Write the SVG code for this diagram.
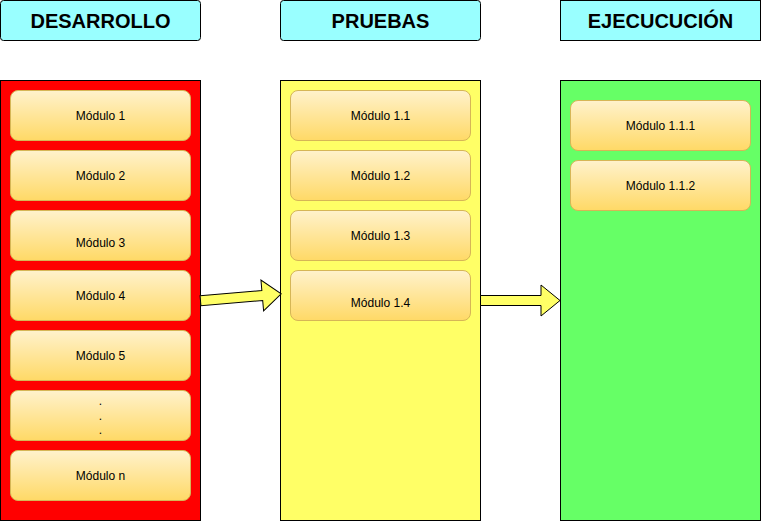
<svg xmlns="http://www.w3.org/2000/svg" width="761" height="521" viewBox="0 0 761 521">
<defs>
<linearGradient id="mod" x1="0" y1="0" x2="0" y2="1">
<stop offset="0" stop-color="#FFF2CC"/>
<stop offset="1" stop-color="#FFD966"/>
</linearGradient>
<style>
.hdr{fill:#99FFFF;stroke:#000;stroke-width:1}
.htxt{font-family:"Liberation Sans",Arial,sans-serif;font-weight:bold;font-size:20px;text-anchor:middle;fill:#000}
.col{stroke:#000;stroke-width:1}
.mod{fill:url(#mod);stroke:#D6B656;stroke-width:1}
.mtxt{font-family:"Liberation Sans",Arial,sans-serif;font-size:12px;text-anchor:middle;fill:#000}
.arr{fill:#FFFF66;stroke:#000;stroke-width:1;stroke-linejoin:miter}
</style>
</defs>
<rect width="761" height="521" fill="#fff"/>
<g id="hdr-desarrollo"><rect class="hdr" x="0.5" y="0.5" width="200" height="40" rx="3"/><text class="htxt" x="100.5" y="27.5">DESARROLLO</text></g>
<g id="hdr-pruebas"><rect class="hdr" x="280.5" y="0.5" width="200" height="40" rx="3"/><text class="htxt" x="380.5" y="27.5">PRUEBAS</text></g>
<g id="hdr-ejecucion"><rect class="hdr" x="560.5" y="0.5" width="200" height="40"/><text class="htxt" x="660.5" y="27.5">EJECUCUCIÓN</text></g>

<g id="col-desarrollo"><rect class="col" x="0.5" y="80.5" width="200" height="440" fill="#FF0000"/></g>
<g id="col-pruebas"><rect class="col" x="280.5" y="80.5" width="200" height="440" fill="#FFFF66"/></g>
<g id="col-ejecucion"><rect class="col" x="560.5" y="80.5" width="200" height="440" fill="#66FF66"/></g>

<g id="m1"><rect class="mod" x="10.5" y="90.5" width="180" height="50" rx="7.5"/><text class="mtxt" x="100.5" y="119.5">Módulo 1</text></g>
<g id="m2"><rect class="mod" x="10.5" y="150.5" width="180" height="50" rx="7.5"/><text class="mtxt" x="100.5" y="179.5">Módulo 2</text></g>
<g id="m3"><rect class="mod" x="10.5" y="210.5" width="180" height="50" rx="7.5"/><text class="mtxt" x="100.5" y="246.5">Módulo 3</text></g>
<g id="m4"><rect class="mod" x="10.5" y="270.5" width="180" height="50" rx="7.5"/><text class="mtxt" x="100.5" y="299.5">Módulo 4</text></g>
<g id="m5"><rect class="mod" x="10.5" y="330.5" width="180" height="50" rx="7.5"/><text class="mtxt" x="100.5" y="359.5">Módulo 5</text></g>
<g id="mdots"><rect class="mod" x="10.5" y="390.5" width="180" height="50" rx="7.5"/><text class="mtxt" x="100.5" y="405">.</text><text class="mtxt" x="100.5" y="419.5">.</text><text class="mtxt" x="100.5" y="434">.</text></g>
<g id="mn"><rect class="mod" x="10.5" y="450.5" width="180" height="50" rx="7.5"/><text class="mtxt" x="100.5" y="479.5">Módulo n</text></g>

<g id="m11"><rect class="mod" x="290.5" y="90.5" width="180" height="50" rx="7.5"/><text class="mtxt" x="380.5" y="119.5">Módulo 1.1</text></g>
<g id="m12"><rect class="mod" x="290.5" y="150.5" width="180" height="50" rx="7.5"/><text class="mtxt" x="380.5" y="179.5">Módulo 1.2</text></g>
<g id="m13"><rect class="mod" x="290.5" y="210.5" width="180" height="50" rx="7.5"/><text class="mtxt" x="380.5" y="239.5">Módulo 1.3</text></g>
<g id="m14"><rect class="mod" x="290.5" y="270.5" width="180" height="50" rx="7.5"/><text class="mtxt" x="380.5" y="306.5">Módulo 1.4</text></g>

<g id="m111"><rect class="mod" x="570.5" y="100.5" width="180" height="50" rx="7.5"/><text class="mtxt" x="660.5" y="129.5">Módulo 1.1.1</text></g>
<g id="m112"><rect class="mod" x="570.5" y="160.5" width="180" height="50" rx="7.5"/><text class="mtxt" x="660.5" y="189.5">Módulo 1.1.2</text></g>

<g id="connectors">
<polygon class="arr" transform="translate(200.5,300.8) rotate(-4.9)" points="0,-5 62,-5 62,-15.5 81,0 62,15.5 62,5 0,5"/>
<polygon class="arr" points="480.5,295.5 541,295.5 541,285 560,300.5 541,316 541,305.5 480.5,305.5"/>
</g>
</svg>
